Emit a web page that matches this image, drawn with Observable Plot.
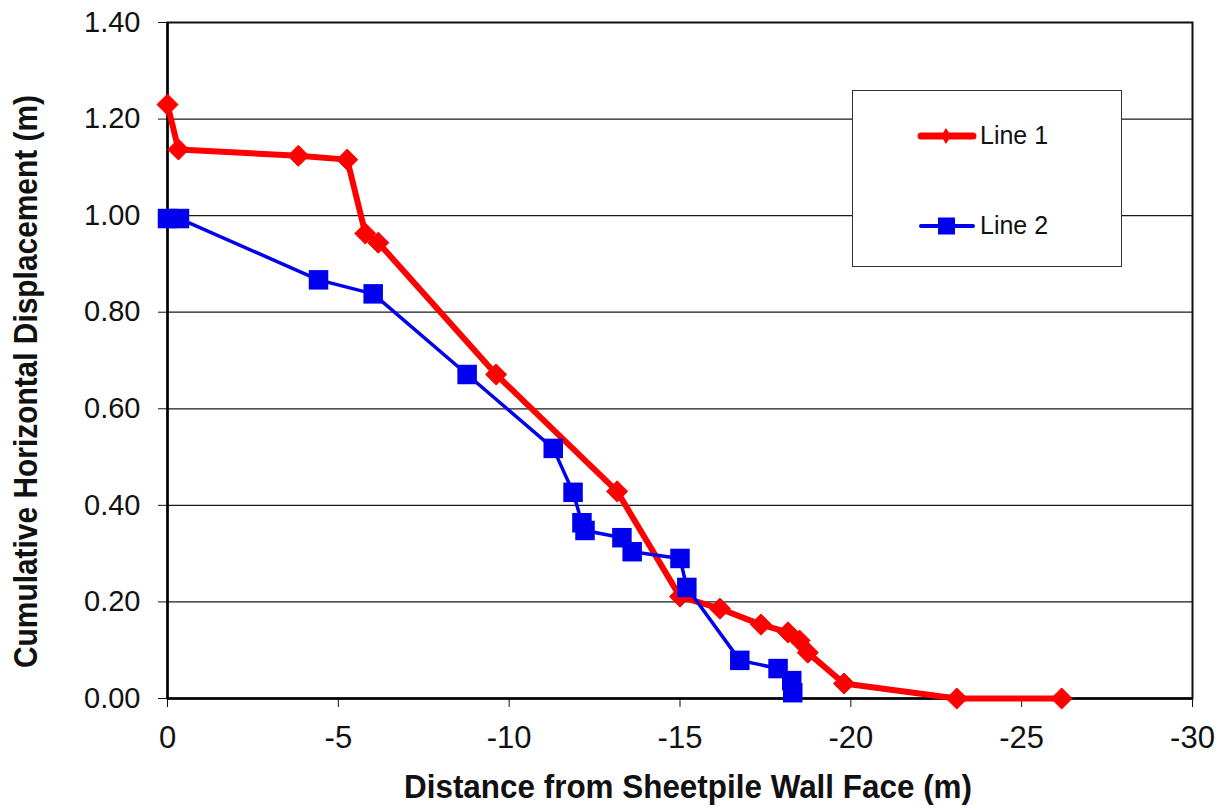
<!DOCTYPE html>
<html>
<head>
<meta charset="utf-8">
<script src="https://cdn.jsdelivr.net/npm/d3@7"></script>
<script src="https://cdn.jsdelivr.net/npm/@observablehq/plot@0.6"></script>
<style>
  html, body { margin: 0; padding: 0; background: #fff; }
  #wrap { position: relative; width: 1224px; height: 812px; font-family: "Liberation Sans", Arial, sans-serif; }
  #legend { position: absolute; left: 852px; top: 90px; width: 268px; height: 175px; border: 1.5px solid #333; background: #fff; }
  .item { position: absolute; left: 64px; display: flex; align-items: center; font-size: 25px; color: #111; line-height: 1; }
  .item svg { margin-right: 3px; }
</style>
</head>
<body>
<div id="wrap"></div>
<script>
// Data
const seriesNames = ["Line 1", "Line 2"];
const line1X = [0, -0.32, -3.83, -5.26, -5.79, -6.17, -9.62, -13.16, -15.0, -16.17, -17.37, -18.16, -18.5, -18.74, -19.8, -23.1, -26.17];
const line1Y = [1.23, 1.137, 1.124, 1.116, 0.963, 0.944, 0.671, 0.429, 0.211, 0.186, 0.153, 0.137, 0.120, 0.095, 0.031, 0.0, 0.0];
const line2X = [0, -0.35, -4.42, -6.02, -8.77, -11.29, -11.87, -12.13, -12.22, -13.3, -13.6, -15.0, -15.2, -16.75, -17.87, -18.27, -18.3];
const line2Y = [0.994, 0.994, 0.867, 0.838, 0.671, 0.518, 0.427, 0.364, 0.348, 0.333, 0.304, 0.290, 0.230, 0.079, 0.062, 0.037, 0.012];
const xTicks = [0, -5, -10, -15, -20, -25, -30];
const yTicks = [0, 0.2, 0.4, 0.6, 0.8, 1.0, 1.2, 1.4];
const xLabel = "Distance from Sheetpile Wall Face (m)";
const yLabel = "Cumulative Horizontal Displacement (m)";

const red = "#ff0000";
const blue = "#0000ee";

const line1 = line1X.map((x, i) => ({x, y: line1Y[i]}));
const line2 = line2X.map((x, i) => ({x, y: line2Y[i]}));

const chart = Plot.plot({
  width: 1224,
  height: 812,
  marginLeft: 167,
  marginRight: 32,
  marginTop: 22,
  marginBottom: 114,
  style: {fontFamily: "'Liberation Sans', Arial, sans-serif", background: "#fff"},
  x: {domain: [0, -30], ticks: xTicks, tickFormat: d => String(d)},
  y: {domain: [0, 1.4], ticks: yTicks, tickFormat: d3.format(".2f")},
  marks: [
    Plot.gridY(yTicks, {stroke: "#1a1a1a", strokeOpacity: 1, strokeWidth: 1.2}),
    Plot.frame({stroke: "#111", strokeWidth: 2}),
    Plot.axisX({ticks: xTicks, tickFormat: d => String(d), tickSize: 9, tickPadding: 18, fontSize: 31, color: "#111", label: null}),
    Plot.axisY({ticks: yTicks, tickFormat: d3.format(".2f"), tickSize: 9, tickPadding: 18, fontSize: 29, color: "#111", label: null}),
    Plot.ruleX([0], {stroke: "#000", strokeWidth: 2.5}),
    Plot.ruleY([0], {stroke: "#000", strokeWidth: 2.5}),
    Plot.line(line1, {x: "x", y: "y", stroke: red, strokeWidth: 6}),
    Plot.dot(line1, {x: "x", y: "y", symbol: "diamond2", r: 9.5, fill: red, stroke: red, strokeWidth: 1}),
    Plot.line(line2, {x: "x", y: "y", stroke: blue, strokeWidth: 3.5}),
    Plot.dot(line2, {x: "x", y: "y", symbol: "square", r: 11, fill: blue, stroke: "none"}),
    Plot.text([yLabel], {className: "ylab", frameAnchor: "left", textAnchor: "middle", rotate: -90, dx: -141, dy: 21, fontSize: 33, fontWeight: "bold", fill: "#111"}),
    Plot.text([xLabel], {className: "xlab", frameAnchor: "bottom", textAnchor: "middle", dy: 99, dx: 8, fontSize: 33, fontWeight: "bold", fill: "#111"})
  ]
});

// Fit axis titles to the reference's measured extents
d3.select(chart).select("g.ylab text").attr("textLength", 573).attr("lengthAdjust", "spacingAndGlyphs");
d3.select(chart).select("g.xlab text").attr("textLength", 568).attr("lengthAdjust", "spacingAndGlyphs");

const wrap = document.getElementById("wrap");
wrap.appendChild(chart);

// Legend overlay
const legend = document.createElement("div");
legend.id = "legend";
const sym1 = `<svg width="60" height="20"><line x1="4" y1="10" x2="56" y2="10" stroke="${red}" stroke-width="7" stroke-linecap="round"/><path d="M29,2 L34,10 L29,18 L24,10 Z" fill="${red}"/></svg>`;
const sym2 = `<svg width="60" height="20"><line x1="4" y1="10" x2="56" y2="10" stroke="${blue}" stroke-width="4" stroke-linecap="round"/><rect x="21" y="1.5" width="17" height="17" fill="${blue}"/></svg>`;
legend.innerHTML =
  `<div class="item" style="top:32px">${sym1}<span>${seriesNames[0]}</span></div>` +
  `<div class="item" style="top:122px">${sym2}<span>${seriesNames[1]}</span></div>`;
wrap.appendChild(legend);
</script>
</body>
</html>
